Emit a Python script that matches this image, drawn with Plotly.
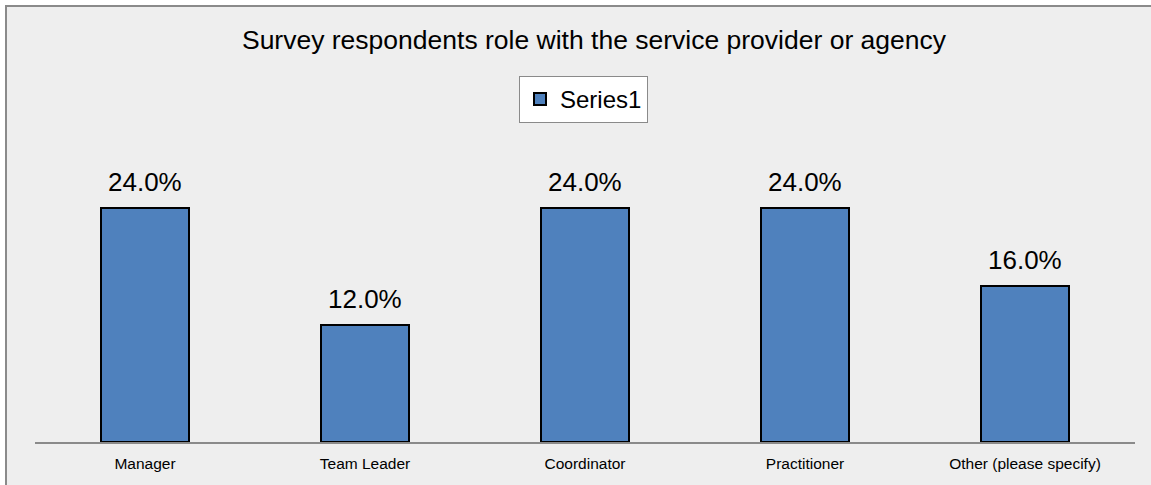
import plotly.graph_objects as go

roles = ["Manager", "Team Leader", "Coordinator", "Practitioner", "Other (please specify)"]
shares = [24.0, 12.0, 24.0, 24.0, 16.0]
series_name = "Series1"

W, H = 1151, 485
L, R, T, B = 35, 16, 150, 43
plot_w = W - L - R
plot_h = H - T - B
y_max = plot_h / 9.75

FONT = "Liberation Sans, Arial, sans-serif"


def px_x(px):
    return (px - L) / plot_w


def px_y(py):
    return (H - B - py) / plot_h


fig = go.Figure()
fig.add_trace(go.Bar(
    x=roles,
    y=shares,
    name=series_name,
    width=0.4,
    marker=dict(color="#4f81bd", line=dict(color="#000000", width=2)),
    showlegend=True,
))

# value labels above each bar
for role, val in zip(roles, shares):
    fig.add_annotation(
        x=role, y=val, xref="x", yref="y",
        text=f"{val:.1f}%", showarrow=False,
        yanchor="middle", yshift=26,
        font=dict(size=26, color="#000000", family=FONT),
    )

# chart area panel with border on top/left
fig.add_shape(
    type="rect", layer="below",
    xref="paper", yref="paper",
    x0=px_x(6), x1=px_x(W + 20), y0=px_y(H + 20), y1=px_y(6),
    fillcolor="#eeeeee", line=dict(color="#8a8a8a", width=2),
)

fig.update_layout(
    width=W, height=H,
    margin=dict(l=L, r=R, t=T, b=B),
    paper_bgcolor="#ffffff",
    plot_bgcolor="#eeeeee",
    font=dict(family=FONT, color="#000000"),
    title=dict(
        text="Survey respondents role with the service provider or agency",
        font=dict(size=26.5, color="#000000", family=FONT),
        x=px_x(594), xref="paper", xanchor="center",
        y=1 - 40 / H, yref="container", yanchor="middle",
    ),
    legend=dict(
        x=px_x(519), xanchor="left",
        y=px_y(76), yanchor="top",
        bgcolor="#ffffff", bordercolor="#8a8a8a", borderwidth=1,
        font=dict(size=24, color="#000000", family=FONT),
    ),
    bargap=0.6,
    xaxis=dict(
        showline=True, linecolor="#8a8a8a", linewidth=2,
        showgrid=False, ticks="",
        tickfont=dict(size=15.5, color="#000000", family=FONT),
        ticklabelstandoff=6,
    ),
    yaxis=dict(
        range=[0, y_max], visible=False, showgrid=False, zeroline=False,
    ),
)

fig.write_html("out.html")
